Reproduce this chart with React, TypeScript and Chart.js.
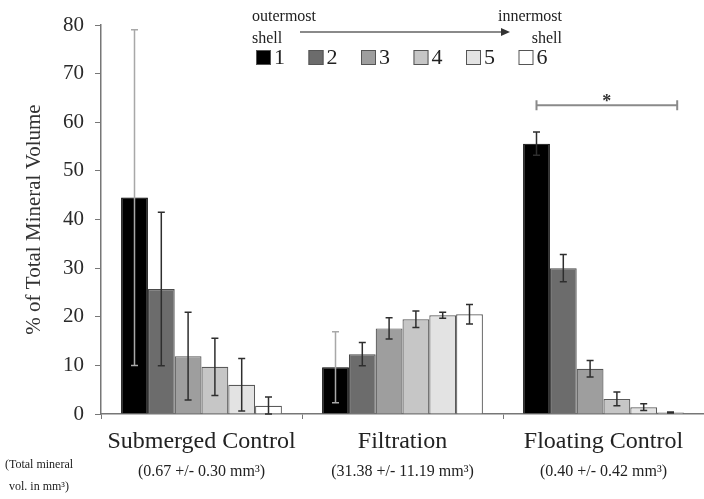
import { useEffect, useRef } from "react";
import { Chart, registerables } from "chart.js";

Chart.register(...registerables);

// ---- data ----
const groups = ["Submerged Control", "Filtration", "Floating Control"];
const groupVolumes = ["(0.67 +/- 0.30 mm³)", "(31.38 +/- 11.19 mm³)", "(0.40 +/- 0.42 mm³)"];
const volumeNote = ["(Total mineral", "vol. in mm³)"];
const shells = ["1", "2", "3", "4", "5", "6"];
const shell1 = [44.5, 9.6, 55.6];
const shell2 = [25.7, 12.3, 30.0];
const shell3 = [11.9, 17.6, 9.3];
const shell4 = [9.7, 19.5, 3.1];
const shell5 = [6.0, 20.3, 1.4];
const shell6 = [1.7, 20.5, 0.3];
const err1 = [34.5, 7.3, 2.4];
const err2 = [15.8, 2.4, 2.8];
const err3 = [9.0, 2.2, 1.7];
const err4 = [5.9, 1.7, 1.4];
const err5 = [5.4, 0.6, 0.7];
const err6 = [1.8, 2.0, 0.1];
const yMin = 0;
const yMax = 80;
const yStep = 10;
const significanceY = 63.5;
const significanceGroup = 2;
const arrowLeft = "outermost";
const arrowRight = "innermost";
const shellWord = "shell";
const yTitle = "% of Total Mineral Volume";

const seriesValues = [shell1, shell2, shell3, shell4, shell5, shell6];
const seriesErrors = [err1, err2, err3, err4, err5, err6];
const colors = ["#000000", "#6c6c6c", "#9e9e9e", "#c6c6c6", "#e3e3e3", "#ffffff"];
const borders = ["#000000", "#4a4a4a", "#555555", "#5a5a5a", "#5a5a5a", "#5a5a5a"];
const SERIF = "'Liberation Serif', 'DejaVu Serif', serif";

const overlayPlugin = {
  id: "overlay",
  afterDatasetsDraw(chart: any) {
    const ctx = chart.ctx;
    const y = chart.scales.y;
    ctx.save();
    chart.data.datasets.forEach((ds: any, di: number) => {
      const meta = chart.getDatasetMeta(di);
      meta.data.forEach((bar: any, i: number) => {
        const v = ds.data[i];
        const e = seriesErrors[di][i];
        const top = y.getPixelForValue(v + e);
        const bot = y.getPixelForValue(Math.max(0, v - e));
        const x = bar.x;
        ctx.strokeStyle = di === 0 && i < 2 ? "#a8a8a8" : "#2e2e2e";
        ctx.lineWidth = 1.5;
        ctx.beginPath();
        ctx.moveTo(x, top);
        ctx.lineTo(x, bot);
        ctx.moveTo(x - 3.5, top);
        ctx.lineTo(x + 3.5, top);
        ctx.moveTo(x - 3.5, bot);
        ctx.lineTo(x + 3.5, bot);
        ctx.stroke();
      });
    });
    ctx.restore();
  },
  afterDraw(chart: any) {
    const ctx = chart.ctx;
    const x = chart.scales.x;
    const y = chart.scales.y;
    ctx.save();
    // group sub-labels
    ctx.fillStyle = "#222";
    ctx.textAlign = "center";
    ctx.textBaseline = "middle";
    ctx.font = `16px ${SERIF}`;
    groupVolumes.forEach((t, i) => {
      ctx.fillText(t, x.getPixelForValue(i), 472);
    });
    ctx.font = `12px ${SERIF}`;
    ctx.fillText(volumeNote[0], 39, 465);
    ctx.fillText(volumeNote[1], 39, 487);

    // legend
    ctx.font = `22px ${SERIF}`;
    ctx.textAlign = "left";
    ctx.textBaseline = "middle";
    shells.forEach((s, i) => {
      const bx = 256 + i * 52.5;
      const by = 50;
      ctx.fillStyle = colors[i];
      ctx.fillRect(bx, by, 15, 15);
      ctx.strokeStyle = "#555";
      ctx.lineWidth = 1;
      ctx.strokeRect(bx + 0.5, by + 0.5, 14, 14);
      ctx.fillStyle = "#222";
      ctx.fillText(s, bx + 18, by + 8);
    });

    // arrow header
    ctx.font = `16px ${SERIF}`;
    ctx.fillStyle = "#222";
    ctx.textBaseline = "alphabetic";
    ctx.textAlign = "left";
    ctx.fillText(arrowLeft, 252, 21);
    ctx.fillText(shellWord, 252, 43);
    ctx.textAlign = "right";
    ctx.fillText(arrowRight, 562, 21);
    ctx.fillText(shellWord, 562, 43);
    ctx.strokeStyle = "#8a8a8a";
    ctx.lineWidth = 2;
    ctx.beginPath();
    ctx.moveTo(300, 32);
    ctx.lineTo(503, 32);
    ctx.stroke();
    ctx.fillStyle = "#333";
    ctx.beginPath();
    ctx.moveTo(510, 32);
    ctx.lineTo(501, 28);
    ctx.lineTo(501, 36);
    ctx.closePath();
    ctx.fill();

    // significance bracket
    const meta0 = chart.getDatasetMeta(0).data[significanceGroup];
    const meta5 = chart.getDatasetMeta(5).data[significanceGroup];
    const x0 = meta0.x;
    const x1 = meta5.x + meta5.width * 0.25;
    const by = y.getPixelForValue(significanceY);
    ctx.strokeStyle = "#8a8a8a";
    ctx.lineWidth = 2;
    ctx.beginPath();
    ctx.moveTo(x0, by);
    ctx.lineTo(x1, by);
    ctx.moveTo(x0, by - 5);
    ctx.lineTo(x0, by + 5);
    ctx.moveTo(x1, by - 5);
    ctx.lineTo(x1, by + 5);
    ctx.stroke();
    ctx.fillStyle = "#333";
    ctx.font = `bold 18px ${SERIF}`;
    ctx.textAlign = "center";
    ctx.textBaseline = "middle";
    ctx.fillText("*", (x0 + x1) / 2, by - 3);
    ctx.restore();
  },
};

export default function App() {
  const ref = useRef<HTMLCanvasElement | null>(null);
  useEffect(() => {
    if (!ref.current) return;
    const chart = new Chart(ref.current, {
      type: "bar",
      data: {
        labels: groups,
        datasets: seriesValues.map((vals, i) => ({
          label: shells[i],
          data: vals,
          backgroundColor: colors[i],
          borderColor: borders[i],
          borderWidth: 1.2,
          barPercentage: 1,
          categoryPercentage: 0.8,
        })),
      },
      options: {
        animation: false,
        responsive: true,
        maintainAspectRatio: false,
        layout: { padding: { top: 25, right: -5, left: 0, bottom: 0 } },
        plugins: {
          legend: { display: false },
          tooltip: { enabled: false },
        },
        scales: {
          x: {
            grid: { display: true, drawOnChartArea: false, drawTicks: true, tickLength: 5, color: "#777" },
            border: { display: true, color: "#777", width: 1.5 },
            ticks: { color: "#222", font: { family: SERIF, size: 24 }, padding: 8, maxRotation: 0 },
            afterFit(scale: any) {
              scale.height = 85;
            },
          },
          y: {
            min: yMin,
            max: yMax,
            ticks: { stepSize: yStep, color: "#2a2a2a", font: { family: SERIF, size: 21 }, padding: 11 },
            grid: { display: true, drawOnChartArea: false, drawTicks: true, tickLength: 6, color: "#777" },
            border: { display: true, color: "#777", width: 1.5 },
            title: {
              display: true,
              text: yTitle,
              color: "#333",
              font: { family: SERIF, size: 21 },
              padding: { top: 22, bottom: 0 },
            },
            afterFit(scale: any) {
              scale.width = 101;
            },
          },
        },
      },
      plugins: [overlayPlugin],
    });
    return () => chart.destroy();
  }, []);
  return (
    <div style={{ position: "fixed", left: 0, top: 0, width: 704, height: 499, background: "#fff" }}>
      <canvas ref={ref} />
    </div>
  );
}
